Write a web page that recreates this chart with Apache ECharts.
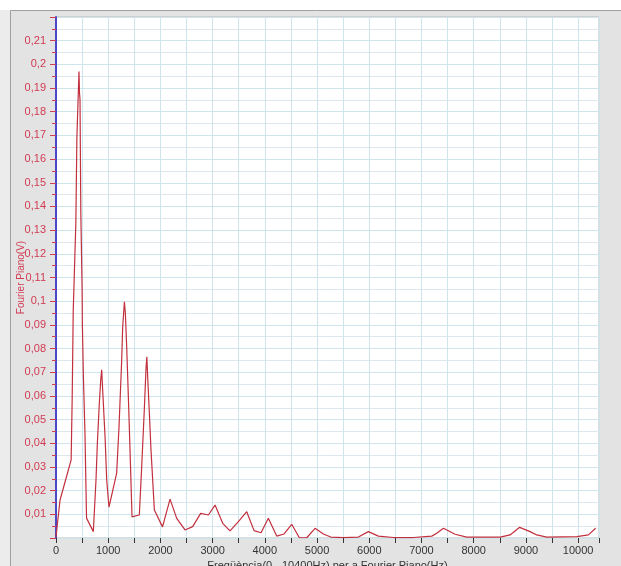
<!DOCTYPE html>
<html>
<head>
<meta charset="utf-8">
<script src="https://cdn.jsdelivr.net/npm/echarts@6/dist/echarts.min.js"></script>
<style>
html,body{margin:0;padding:0;background:#fff;}
#c{width:621px;height:566px;}
</style>
</head>
<body>
<div id="c"></div>
<script>
const freqs = [0,77,140,290,310,330,380,400,440,450,460,475,500,505,525,555,585,715,766,792,830,856,875,894,940,971,1015,1162,1207,1258,1277,1310,1328,1354,1386,1418,1456,1596,1641,1693,1724,1740,1756,1788,1820,1884,2040,2184,2312,2471,2618,2771,2918,3046,3193,3333,3493,3653,3793,3927,4067,4227,4368,4515,4661,4802,4962,5121,5262,5504,5791,5983,6175,6462,6845,7197,7293,7420,7644,7867,8506,8697,8880,9080,9208,9400,9975,10198,10335];
const amps = [0.0005,0.016,0.021,0.033,0.059,0.096,0.133,0.169,0.197,0.188,0.185,0.138,0.105,0.09,0.068,0.044,0.0084,0.0027,0.0245,0.040,0.057,0.0666,0.071,0.0624,0.0426,0.0245,0.013,0.0274,0.047,0.075,0.089,0.0997,0.095,0.0807,0.0595,0.037,0.0089,0.0097,0.030,0.055,0.0717,0.0765,0.068,0.0527,0.037,0.0118,0.0047,0.0164,0.0083,0.0034,0.0048,0.0104,0.0097,0.0139,0.0062,0.003,0.0069,0.0111,0.0031,0.0022,0.0083,0.0008,0.0017,0.0058,0.0001,0.0001,0.0041,0.0017,0.0004,0.0002,0.0004,0.0027,0.0008,0.0002,0.0002,0.0008,0.002,0.0041,0.0016,0.0004,0.0004,0.0013,0.0045,0.0027,0.0013,0.0004,0.0006,0.0013,0.0041];
const xTitle = 'Freqüència(0 - 10400Hz) per a Fourier Piano(Hz)';
const yTitle = 'Fourier Piano(V)';

const chart = echarts.init(document.getElementById('c'), null, {renderer:'canvas'});
const data = freqs.map((f,i)=>[f, amps[i]]);
const gridColor = '#cfe5ee';
chart.setOption({
  animation:false,
  backgroundColor:'#ffffff',
  graphic:[
    {type:'rect', z:-10, shape:{x:0,y:10,width:10,height:556}, style:{fill:'#ececec'}},
    {type:'rect', z:-10, shape:{x:10.5,y:10.5,width:620,height:560}, style:{fill:'#e3e3e3', stroke:'#a0a0a0', lineWidth:1}}
  ],
  grid:{left:56, right:22, top:17, bottom:28, outerBoundsMode:'none', containLabel:false, show:true, backgroundColor:'#ffffff', borderColor:'#b8b8b8', borderWidth:1},
  xAxis:{
    type:'value', min:0, max:10400, interval:500,
    name:xTitle, nameLocation:'middle', nameGap:22, nameMoveOverlap:false,
    nameTextStyle:{color:'#333', fontSize:11, fontFamily:'Liberation Sans'},
    axisLine:{show:false},
    axisTick:{show:true, length:5, lineStyle:{color:'#333'}},
    axisLabel:{color:'#333', fontSize:11, fontFamily:'Liberation Sans', margin:7,
      formatter:v=> (Math.round(v)%1000===0 && v<=10000) ? String(Math.round(v)) : ''},
    splitLine:{show:true, lineStyle:{color:gridColor, width:1}}
  },
  yAxis:{
    type:'value', min:0, max:0.22, interval:0.01,
    name:yTitle, nameLocation:'middle', nameGap:30, nameRotate:90, nameMoveOverlap:false,
    nameTextStyle:{color:'#d23a52', fontSize:10, fontFamily:'Liberation Sans'},
    axisLine:{show:true, lineStyle:{color:'#4848c8', width:2}},
    axisTick:{show:true, length:6, lineStyle:{color:'#d23a52'}},
    minorTick:{show:true, splitNumber:2, length:4, lineStyle:{color:'#d23a52'}},
    axisLabel:{color:'#d23a52', fontSize:11, fontFamily:'Liberation Sans', margin:10,
      formatter:v=>{ if (v<=0.0001 || v>=0.2199) return ''; return String(Number(v.toFixed(2))).replace('.',','); }},
    splitLine:{show:true, lineStyle:{color:gridColor, width:1}},
    minorSplitLine:{show:true, lineStyle:{color:'#dde7ec', width:1}}
  },
  series:[{
    type:'line', data:data, showSymbol:false, symbol:'none',
    lineStyle:{color:'#c2303e', width:1.2}
  }]
});
</script>
</body>
</html>
